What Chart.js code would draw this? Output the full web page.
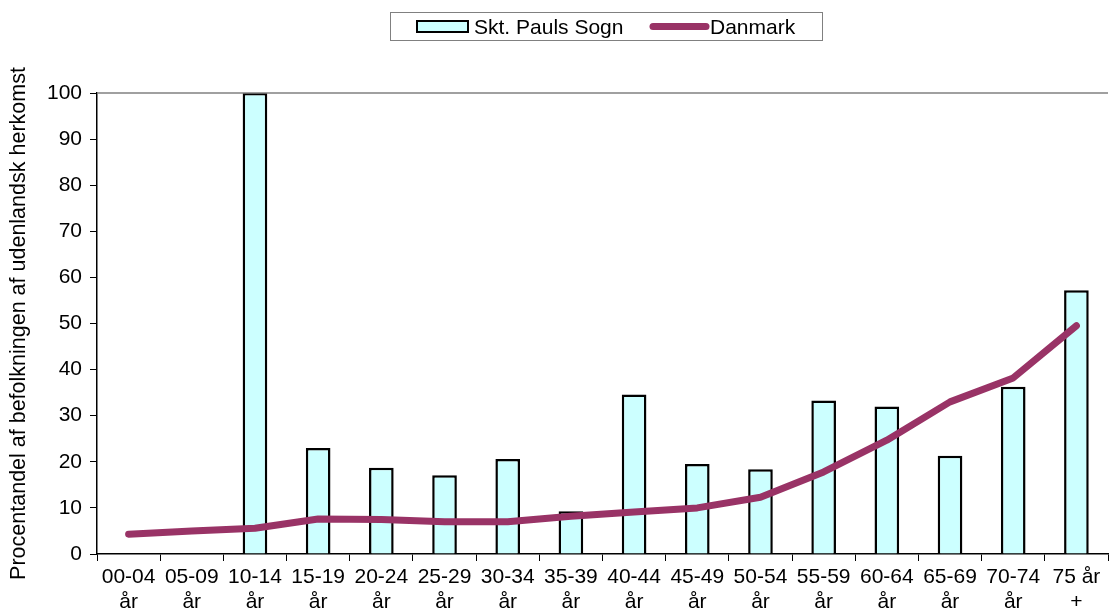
<!DOCTYPE html>
<html>
<head>
<meta charset="utf-8">
<script src="https://cdn.jsdelivr.net/npm/chart.js@4"></script>
<style>
  html, body { margin: 0; padding: 0; background: #fff; }
  #wrap { width: 1110px; height: 613px; }
</style>
</head>
<body>
<div id="wrap"><canvas id="chart_1" width="1110" height="613"></canvas></div>
<script>
// Data
var kategorier = [
    ['00-04', 'år'], ['05-09', 'år'], ['10-14', 'år'], ['15-19', 'år'],
    ['20-24', 'år'], ['25-29', 'år'], ['30-34', 'år'], ['35-39', 'år'],
    ['40-44', 'år'], ['45-49', 'år'], ['50-54', 'år'], ['55-59', 'år'],
    ['60-64', 'år'], ['65-69', 'år'], ['70-74', 'år'], ['75 år', '+']
];
var sogn = [null, null, 100, 23.0, 18.7, 17.1, 20.6, 9.3, 34.6, 19.5, 18.4, 33.3, 32.0, 21.3, 36.3, 57.2];
var danmark = [4.3, 5.0, 5.6, 7.6, 7.5, 7.0, 7.0, 8.2, 9.1, 10.0, 12.3, 17.8, 24.7, 33.0, 38.2, 49.5];
var yTicks = [0, 10, 20, 30, 40, 50, 60, 70, 80, 90, 100];

var fontFam = "'Liberation Sans', Arial, sans-serif";
var lineColor = '#993366';
var barColor = '#CCFFFF';

// Legend drawn by hand, framed box on top
var legendPlugin = {
    id: 'boxLegend',
    afterDraw: function (chart) {
        var ctx = chart.ctx;
        ctx.save();
        ctx.strokeStyle = '#808080';
        ctx.lineWidth = 1;
        ctx.strokeRect(390.5, 12.5, 432, 28);

        ctx.fillStyle = barColor;
        ctx.fillRect(417, 21, 51, 11);
        ctx.strokeStyle = '#000';
        ctx.lineWidth = 2;
        ctx.strokeRect(417, 21, 51, 11);

        ctx.strokeStyle = lineColor;
        ctx.lineWidth = 7;
        ctx.lineCap = 'round';
        ctx.beginPath();
        ctx.moveTo(653, 26.5);
        ctx.lineTo(706, 26.5);
        ctx.stroke();

        ctx.fillStyle = '#000';
        ctx.font = '21px ' + fontFam;
        ctx.textBaseline = 'alphabetic';
        ctx.fillText('Skt. Pauls Sogn', 474, 34);
        ctx.fillText('Danmark', 710, 34);

        // top border of plot area
        var a = chart.chartArea;
        ctx.strokeStyle = '#808080';
        ctx.lineWidth = 1.5;
        ctx.lineCap = 'butt';
        ctx.beginPath();
        ctx.moveTo(a.left, a.top);
        ctx.lineTo(a.right, a.top);
        ctx.stroke();
        ctx.restore();
    }
};

const chart_1 = document.getElementById('chart_1').getContext('2d');
const chart1 = new Chart(chart_1, {
    type: 'bar',
    data: {
        labels: kategorier,
        datasets: [{
            type: 'line',
            label: 'Danmark',
            data: danmark,
            borderColor: lineColor,
            backgroundColor: lineColor,
            borderWidth: 7,
            pointRadius: 0,
            borderCapStyle: 'round',
            borderJoinStyle: 'round',
            tension: 0,
            order: 0
        }, {
            label: 'Skt. Pauls Sogn',
            data: sogn,
            backgroundColor: barColor,
            borderColor: '#000',
            borderWidth: 2.5,
            barPercentage: 0.39,
            categoryPercentage: 1,
            order: 1
        }]
    },
    options: {
        responsive: false,
        animation: false,
        layout: { padding: { top: 93, right: 2, left: 0, bottom: 0 } },
        plugins: {
            legend: { display: false },
            tooltip: { enabled: false }
        },
        scales: {
            x: {
                offset: true,
                grid: {
                    offset: true,
                    drawOnChartArea: false,
                    color: '#000',
                    tickColor: '#000',
                    tickLength: 7
                },
                border: { color: '#000', width: 1.5 },
                ticks: {
                    color: '#000',
                    font: { family: fontFam, size: 21, lineHeight: 1.22 },
                    maxRotation: 0,
                    autoSkip: false,
                    padding: 3
                },
                afterFit: function (s) { s.height = 59; }
            },
            y: {
                min: 0,
                max: 100,
                afterBuildTicks: function (s) {
                    s.ticks = yTicks.map(function (v) { return { value: v }; });
                },
                grid: {
                    drawOnChartArea: false,
                    tickColor: '#000',
                    tickLength: 7
                },
                border: { color: '#000', width: 1.5 },
                ticks: {
                    color: '#000',
                    font: { family: fontFam, size: 21 },
                    padding: 8
                },
                title: {
                    display: true,
                    text: 'Procentandel af befolkningen af udenlandsk herkomst',
                    color: '#000',
                    font: { family: fontFam, size: 21.5 },
                    padding: { top: 6, bottom: 4 }
                },
                afterFit: function (s) { s.width = 97; }
            }
        }
    },
    plugins: [legendPlugin]
});
</script>
</body>
</html>
